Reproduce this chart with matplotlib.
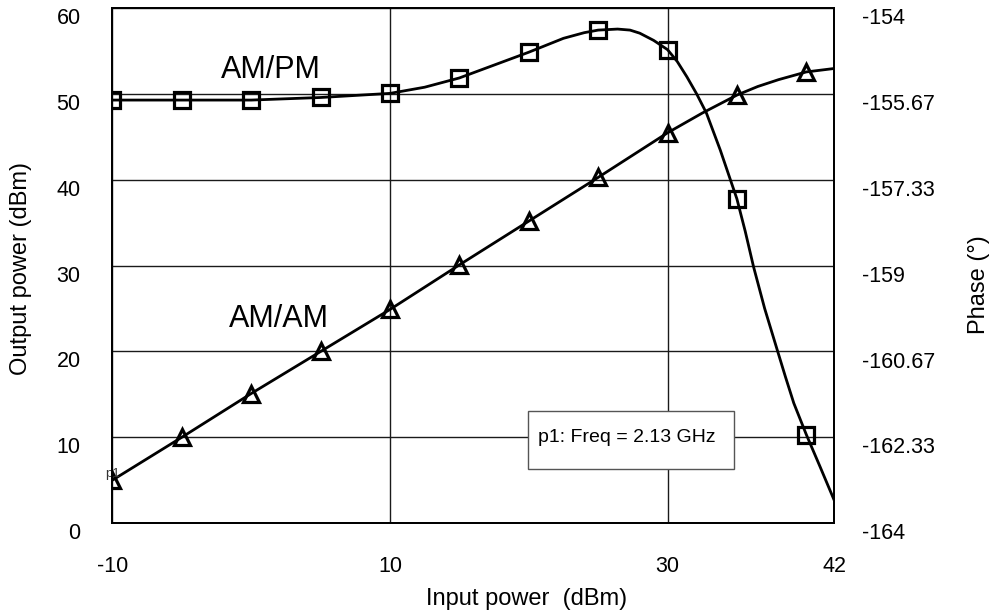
import matplotlib
matplotlib.use("Agg")
import matplotlib.pyplot as plt
from matplotlib.patches import Rectangle

plt.rcParams['font.family'] = ['Liberation Sans', 'DejaVu Sans']

# swept input power where the markers sit (dBm)
pin_marks = [-10, -5, 0, 5, 10, 15, 20, 25, 30, 35, 40]
# AM/AM: output power (dBm) at the markers
pout_marks = [5.0, 10.0, 15.1, 20.0, 24.9, 30.1, 35.2, 40.3, 45.5, 49.9, 52.6]
# AM/PM: phase (deg) at the markers
phase_marks = [-155.78, -155.78, -155.78, -155.73, -155.65, -155.35, -154.85,
               -154.42, -154.80, -157.70, -162.28]

# denser samples of the traces themselves
pin_am = [-10, -5, 0, 5, 10, 15, 20, 25, 30, 32.5, 35, 36.5, 38, 40, 42]
pout_am = [5.0, 10.0, 15.1, 20.0, 24.9, 30.1, 35.2, 40.3, 45.5, 47.8, 49.9,
           50.9, 51.7, 52.6, 53.0]
pin_pm = [-10, -5, 0, 5, 10, 12.5, 15, 17.5, 20, 22.5, 24, 25, 26.4, 27.3, 28,
          29, 30, 30.7, 31.4, 32.1, 32.8, 33.8, 35, 35.6, 36.2, 37, 37.9,
          38.5, 39.1, 40, 41, 42]
phase_pm = [-155.78, -155.78, -155.78, -155.73, -155.65, -155.53, -155.35,
            -155.10, -154.85, -154.58, -154.47, -154.42, -154.40, -154.42,
            -154.48, -154.62, -154.80, -155.03, -155.33, -155.66, -156.03,
            -156.75, -157.70, -158.33, -159.02, -159.83, -160.63, -161.16,
            -161.67, -162.28, -162.91, -163.55]

x_ticks = [-10, 10, 30, 42]
pout_ticks = [0, 10, 20, 30, 40, 50, 60]
phase_ticks = [-164, -162.33, -160.67, -159, -157.33, -155.67, -154]
phase_tick_labels = ['-164', '-162.33', '-160.67', '-159', '-157.33', '-155.67', '-154']

fig = plt.figure(figsize=(9.91, 6.15), dpi=100)
ax = fig.add_axes([0.1135, 0.1496, 0.7281, 0.8366])
ax2 = ax.twinx()

ax.set_xlim(-10, 42)
ax.set_ylim(0, 60)
ax2.set_ylim(-164, -154)

ax.set_xticks(x_ticks)
ax.set_xticklabels([str(v) for v in x_ticks])
ax.set_yticks(pout_ticks)
ax2.set_yticks(phase_ticks)
ax2.set_yticklabels(phase_tick_labels)

ax.grid(True, color='#1a1a1a', lw=1.0)
ax.tick_params(axis='x', length=0, pad=24, labelsize=15.5)
ax.tick_params(axis='y', length=0, pad=23, labelsize=15.5)
ax2.tick_params(axis='y', length=0, pad=20, labelsize=15.5)
plt.setp(ax.get_yticklabels(), va='top')
plt.setp(ax2.get_yticklabels(), va='top')

for a in (ax, ax2):
    for s in a.spines.values():
        s.set_linewidth(1.3)
        s.set_color('black')

# AM/AM trace with triangles
ax.plot(pin_am, pout_am, color='black', lw=2, solid_joinstyle='round')
ax.plot(pin_marks, pout_marks, ls='none', marker='^', ms=11, mew=2.3,
        mfc='none', mec='black')

# AM/PM trace with squares
ax2.plot(pin_pm, phase_pm, color='black', lw=2, solid_joinstyle='round')
ax2.plot(pin_marks, phase_marks, ls='none', marker='s', ms=11, mew=2.3,
         mfc='none', mec='black')

ax.text(1.39, 52.8, 'AM/PM', fontsize=22, ha='center', va='center')
ax.text(2.0, 23.8, 'AM/AM', fontsize=22, ha='center', va='center')
ax.annotate('p1', (pin_marks[0], pout_marks[0]), xytext=(-7.5, 3),
            textcoords='offset pixels', fontsize=9.5, color='#333333',
            ha='left', va='baseline', annotation_clip=False)

# frequency marker box
ax2.add_patch(Rectangle((0.5759, 0.105), 0.2855, 0.1127, transform=ax2.transAxes,
                        fc='white', ec='#555555', lw=1, zorder=5))
ax2.text(0.5897, 0.167, 'p1: Freq = 2.13 GHz', transform=ax2.transAxes,
         fontsize=14, ha='left', va='center', zorder=6)

ax.set_xlabel('Input power  (dBm)', fontsize=17, va='center')
ax.xaxis.set_label_coords(0.5745, -0.1477)
ax.set_ylabel('Output power (dBm)', fontsize=17, va='center')
ax.yaxis.set_label_coords(-0.1262, 0.4956)
ax2.set_ylabel('Phase (°)', fontsize=17, va='center')
ax2.yaxis.set_label_coords(1.2015, 0.4626)

fig.savefig('out.png', dpi=100)
